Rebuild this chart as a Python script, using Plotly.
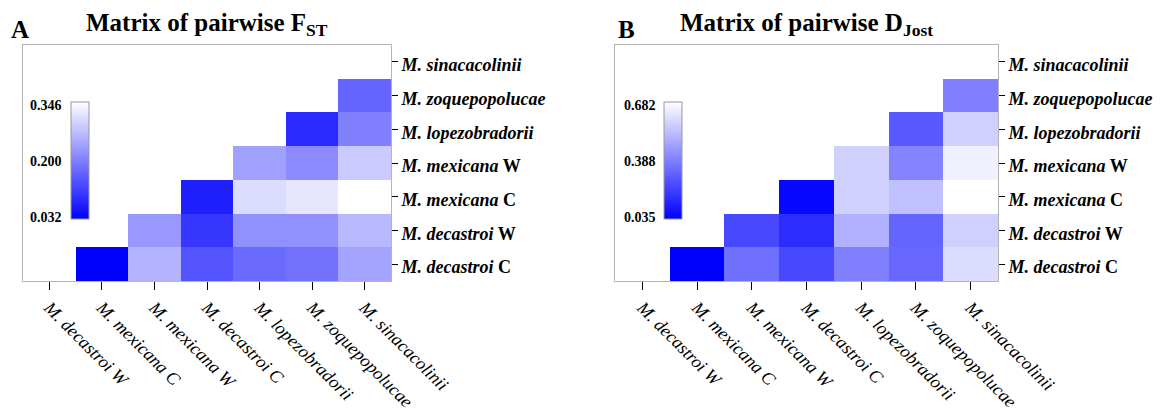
import plotly.graph_objects as go

# ---------------- data ----------------
col_labels = ["M. decastroi W", "M. mexicana C", "M. mexicana W", "M. decastroi C",
              "M. lopezobradorii", "M. zoquepopolucae", "M. sinacacolinii"]
row_labels = ["M. decastroi C", "M. decastroi W", "M. mexicana C", "M. mexicana W",
              "M. lopezobradorii", "M. zoquepopolucae", "M. sinacacolinii"]
row_ticktext = ["<i>M. decastroi</i> C", "<i>M. decastroi</i> W", "<i>M. mexicana</i> C",
                "<i>M. mexicana</i> W", "<i>M. lopezobradorii</i>", "<i>M. zoquepopolucae</i>",
                "<i>M. sinacacolinii</i>"]

# Pairwise FST (rows bottom -> top, columns left -> right)
fst_decastroi_C = [None, 0.032, 0.253, 0.136, 0.163, 0.172, 0.234]
fst_decastroi_W = [None, None, 0.219, 0.100, 0.209, 0.209, 0.259]
fst_mexicana_C = [None, None, None, 0.071, 0.303, 0.315, 0.346]
fst_mexicana_W = [None, None, None, None, 0.229, 0.203, 0.281]
fst_lopezobradorii = [None, None, None, None, None, 0.084, 0.190]
fst_zoquepopolucae = [None, None, None, None, None, None, 0.155]
fst_sinacacolinii = [None, None, None, None, None, None, None]
fst_ticks = [0.032, 0.200, 0.346]

# Pairwise DJost
dj_decastroi_C = [None, 0.035, 0.319, 0.218, 0.360, 0.299, 0.593]
dj_decastroi_W = [None, None, 0.218, 0.147, 0.482, 0.289, 0.563]
dj_mexicana_C = [None, None, None, 0.055, 0.563, 0.522, 0.682]
dj_mexicana_W = [None, None, None, None, 0.563, 0.370, 0.644]
dj_lopezobradorii = [None, None, None, None, None, 0.258, 0.563]
dj_zoquepopolucae = [None, None, None, None, None, None, 0.360]
dj_sinacacolinii = [None, None, None, None, None, None, None]
dj_ticks = [0.035, 0.388, 0.682]

fst = [fst_decastroi_C, fst_decastroi_W, fst_mexicana_C, fst_mexicana_W,
       fst_lopezobradorii, fst_zoquepopolucae, fst_sinacacolinii]
dj = [dj_decastroi_C, dj_decastroi_W, dj_mexicana_C, dj_mexicana_W,
      dj_lopezobradorii, dj_zoquepopolucae, dj_sinacacolinii]

# ---------------- figure ----------------
PAGE_MARGIN = 8                      # default body margin of the html page
W, H = 1170 - PAGE_MARGIN, 410 - PAGE_MARGIN
SERIF = "Liberation Serif"
scale = [[0, "rgb(0,0,255)"], [1, "rgb(255,255,255)"]]

fig = go.Figure()
fig.add_trace(go.Heatmap(z=fst, x=col_labels, y=row_labels, coloraxis="coloraxis",
                         xaxis="x", yaxis="y", hoverinfo="skip"))
fig.add_trace(go.Heatmap(z=dj, x=col_labels, y=row_labels, coloraxis="coloraxis2",
                         xaxis="x2", yaxis="y2", hoverinfo="skip"))

def px_x(p):
    return (p - PAGE_MARGIN) / W

def px_y(p):
    return 1 - (p - PAGE_MARGIN) / H

dom_a = [px_x(23), px_x(391)]
dom_b = [px_x(615), px_x(998)]
dom_y = [px_y(281), px_y(45)]

xax = dict(type="category", categoryorder="array", categoryarray=col_labels,
           automargin=False,
           showline=True, linecolor="#b5b5b5", linewidth=1, mirror=True,
           ticks="outside", ticklen=8, tickcolor="black", tickwidth=1,
           tickangle=45, showgrid=False, zeroline=False,
           tickfont=dict(family=SERIF, size=18, color="black", style="italic"))
yax = dict(type="category", categoryorder="array", categoryarray=row_labels,
           automargin=False,
           tickmode="array", tickvals=row_labels, ticktext=row_ticktext,
           side="right", showline=True, linecolor="#b5b5b5", linewidth=1, mirror=True,
           ticks="outside", ticklen=6, tickcolor="black", tickwidth=1,
           ticklabelshift=3,
           showgrid=False, zeroline=False,
           tickfont=dict(family=SERIF, size=18, color="black", weight="bold"))

CB_TOP, CB_LEN = 102, 117

def cbar(xpx):
    return dict(x=px_x(xpx), xanchor="left", y=px_y(CB_TOP), yanchor="top",
                xpad=0, ypad=0,
                lenmode="pixels", len=CB_LEN, thicknessmode="pixels", thickness=18,
                outlinewidth=1, outlinecolor="#999999", showticklabels=False, ticks="")

fig.update_layout(
    width=W, height=H, margin=dict(l=0, r=0, t=0, b=0, autoexpand=False),
    paper_bgcolor="white", plot_bgcolor="white",
    xaxis=dict(domain=dom_a, anchor="y", **xax),
    yaxis=dict(domain=dom_y, anchor="x", **yax),
    xaxis2=dict(domain=dom_b, anchor="y2", **xax),
    yaxis2=dict(domain=dom_y, anchor="x2", **yax),
    coloraxis=dict(colorscale=scale, cmin=fst_ticks[0], cmax=fst_ticks[-1],
                   colorbar=cbar(71)),
    coloraxis2=dict(colorscale=scale, cmin=dj_ticks[0], cmax=dj_ticks[-1],
                    colorbar=cbar(664)),
    showlegend=False,
)

# colorbar tick labels on the left of each bar (evenly spaced: bottom / middle / top)
cb_font = dict(family=SERIF, size=14, color="black", weight="bold")
LBL_TOP, LBL_BOT = 105, 218
for xpx, ticks in ((64, fst_ticks), (658, dj_ticks)):
    n = len(ticks)
    for i, t in enumerate(ticks):
        ypx = LBL_BOT - (LBL_BOT - LBL_TOP) * i / (n - 1)
        fig.add_annotation(text=f"{t:.3f}", xref="paper", yref="paper",
                           x=px_x(xpx), y=px_y(ypx), xanchor="right", yanchor="middle",
                           showarrow=False, font=cb_font)

title_font = dict(family=SERIF, size=25, color="black")
fig.add_annotation(text="<b>Matrix of pairwise F<sub>ST</sub></b>", xref="paper", yref="paper",
                   x=(dom_a[0] + dom_a[1]) / 2, y=px_y(24), xanchor="center", yanchor="middle",
                   showarrow=False, font=title_font)
fig.add_annotation(text="<b>Matrix of pairwise D<sub>Jost</sub></b>", xref="paper", yref="paper",
                   x=(dom_b[0] + dom_b[1]) / 2, y=px_y(24), xanchor="center", yanchor="middle",
                   showarrow=False, font=title_font)
fig.add_annotation(text="<b>A</b>", xref="paper", yref="paper", x=px_x(9), y=px_y(30),
                   xanchor="left", yanchor="middle", showarrow=False, font=title_font)
fig.add_annotation(text="<b>B</b>", xref="paper", yref="paper", x=px_x(616), y=px_y(30),
                   xanchor="left", yanchor="middle", showarrow=False, font=title_font)

fig.write_html("out.html")
